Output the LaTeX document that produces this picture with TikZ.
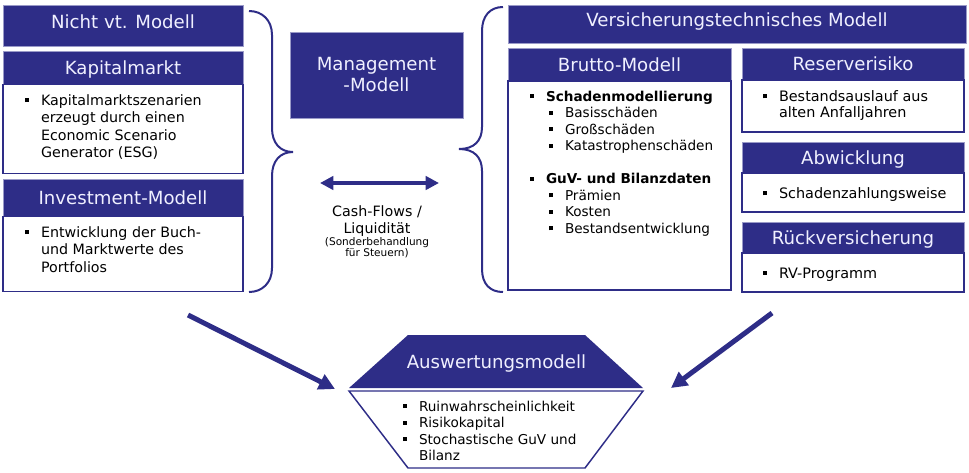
\documentclass[tikz,border=0pt]{standalone}
\usepackage{fontspec}
\setmainfont{DejaVu Sans}
\usetikzlibrary{positioning, arrows.meta, calc}
\definecolor{clrblue}{HTML}{2E2D87}
\definecolor{clrheadtext}{HTML}{F0F0FF}
\definecolor{clrframe}{HTML}{9A9AC8}
\definecolor{clrtext}{HTML}{000000}
\newcommand{\bul}{\makebox[12pt][l]{\rule[0.22em]{3pt}{3pt}}}
\newcommand{\ind}{\hspace*{12pt}}

\begin{document}
\begin{tikzpicture}[
    x=0.75pt, y=-0.75pt,
    every node/.style={inner sep=0pt, outer sep=0pt},
    head/.style={draw=clrframe, line width=0.6pt, fill=clrblue, text=clrheadtext,
                 anchor=north west, text height=9.9pt, text depth=0pt,
                 font=\fontsize{13.6}{16}\selectfont},
    tophead/.style={head, text depth=5.7pt},
    body/.style={draw=clrblue, fill=white, line width=1.1pt, anchor=north west},
    items/.style={anchor=north west, align=left, text=clrtext, font=\fontsize{10.7}{13}\selectfont},
    subitems/.style={anchor=north west, align=left, text=clrtext, font=\fontsize{10.2}{12.4}\selectfont},
    brace/.style={draw=clrblue, line width=1.5pt},
    bigarrow/.style={-{Triangle[length=12pt, width=12pt]}, draw=clrblue, line width=3.75pt},
    flowarrow/.style={{Triangle[length=10pt, width=10pt]}-{Triangle[length=10pt, width=10pt]}, draw=clrblue, line width=2.5pt},
]
\useasboundingbox (0,0) rectangle (969,472);

% linke Seite
\node[tophead, minimum width=180pt, minimum height=30.75pt] (n_1) at (3,5) {Nicht vt. Modell};
\node[head, minimum width=180pt, minimum height=24.75pt, below=4pt of n_1] (n_2) {Kapitalmarkt};
\node[body, minimum width=180pt, minimum height=66.75pt, below=0pt of n_2] (n_3) {};
\node[head, minimum width=180pt, minimum height=27.75pt, below=4.5pt of n_3] (n_4) {Investment-Modell};
\node[body, minimum width=180pt, minimum height=56.25pt, below=0pt of n_4] (n_5) {};
\node[items] (t_3) at (25,94.5) {\bul Kapitalmarktszenarien\\\ind erzeugt durch einen\\\ind Economic Scenario\\\ind Generator (ESG)};
\node[items] (t_5) at (25,226.5) {\bul Entwicklung der Buch-\\\ind und Marktwerte des\\\ind Portfolios};

% Mitte
\node[head, align=center, minimum width=129.75pt, minimum height=64.5pt, text height=, text depth=,
      font=\fontsize{13.6}{15.75}\selectfont] (n_6) at (290,32) {Management\\-Modell};
\coordinate (c_1) at (320,183);
\coordinate (c_2) at (439,183);
\draw[flowarrow] (c_1) -- (c_2);
\node[anchor=north, align=center, text=clrtext, font=\fontsize{10.7}{12.75}\selectfont] (n_16) at (377,206) {Cash-Flows /\\Liquidität};
\node[align=center, text=clrtext, font=\fontsize{7.9}{8.25}\selectfont, below=0.75pt of n_16] (n_17) {(Sonderbehandlung\\für Steuern)};

% Klammern
\draw[brace] (249,11) .. controls (262,11) and (272,20) .. (272,35) -- (272,128)
    .. controls (272,143) and (280,152) .. (293,152)
    .. controls (280,152) and (272,161) .. (272,176) -- (272,268)
    .. controls (272,283) and (262,292) .. (249,292);
\draw[brace] (503,7) .. controls (490,7) and (482,16) .. (482,31) -- (482,127)
    .. controls (482,141) and (474,149) .. (459,149)
    .. controls (474,149) and (482,157) .. (482,171) -- (482,269)
    .. controls (482,284) and (490,292) .. (503,292);

% rechte Seite
\node[tophead, minimum width=343.5pt, minimum height=28.5pt] (n_7) at (508,5) {Versicherungstechnisches Modell};
\node[head, minimum width=167.25pt, minimum height=24.75pt] (n_8) at (508,48) {Brutto-Modell};
\node[body, minimum width=167.25pt, minimum height=156.75pt, below=0pt of n_8] (n_9) {};
\node[subitems] (t_9) at (530,90.8) {\bul\textbf{Schadenmodellierung}\\
    \hspace*{14.25pt}\bul Basisschäden\\
    \hspace*{14.25pt}\bul Großschäden\\
    \hspace*{14.25pt}\bul Katastrophenschäden\\[12.4pt]
    \bul\textbf{GuV- und Bilanzdaten}\\
    \hspace*{14.25pt}\bul Prämien\\
    \hspace*{14.25pt}\bul Kosten\\
    \hspace*{14.25pt}\bul Bestandsentwicklung};
\node[head, minimum width=166.5pt, minimum height=24pt] (n_10) at (742,48) {Reserverisiko};
\node[body, minimum width=166.5pt, minimum height=39pt, below=0pt of n_10] (n_11) {};
\node[head, minimum width=166.5pt, minimum height=23.25pt, below=7.5pt of n_11] (n_12) {Abwicklung};
\node[body, minimum width=166.5pt, minimum height=29.25pt, below=0pt of n_12] (n_13) {};
\node[head, minimum width=166.5pt, minimum height=23.25pt, below=7.5pt of n_13] (n_14) {Rückversicherung};
\node[body, minimum width=166.5pt, minimum height=29.25pt, below=0pt of n_14] (n_15) {};
\node[items, font=\fontsize{10.8}{12}\selectfont] (t_11) at (763,90.5) {\bul Bestandsauslauf aus\\\ind alten Anfalljahren};
\node[items, font=\fontsize{10.8}{12}\selectfont] (t_13) at (763,187.5) {\bul Schadenzahlungsweise};
\node[items, font=\fontsize{10.8}{12}\selectfont] (t_15) at (763,267.5) {\bul RV-Programm};

% Auswertung
\fill[clrblue] (408,335) -- (585,335) -- (643,388) -- (349,388) -- cycle;
\draw[clrblue, line width=1.1pt, fill=white] (349,391) -- (643,391) -- (585,468) -- (408,468) -- cycle;
\node[text=clrheadtext, text height=9.9pt, text depth=0pt, font=\fontsize{13.6}{16}\selectfont] (n_18) at (496.5,362) {Auswertungsmodell};
\node[subitems] (t_18) at (403,400.8) {\bul Ruinwahrscheinlichkeit\\\bul Risikokapital\\\bul Stochastische GuV und\\\ind Bilanz};
\coordinate (a_1) at (188,315);
\coordinate (a_2) at (335,389);
\coordinate (a_3) at (772,313);
\coordinate (a_4) at (671,388);
\draw[bigarrow] (a_1) -- (a_2);
\draw[bigarrow] (a_3) -- (a_4);
\end{tikzpicture}
\end{document}
